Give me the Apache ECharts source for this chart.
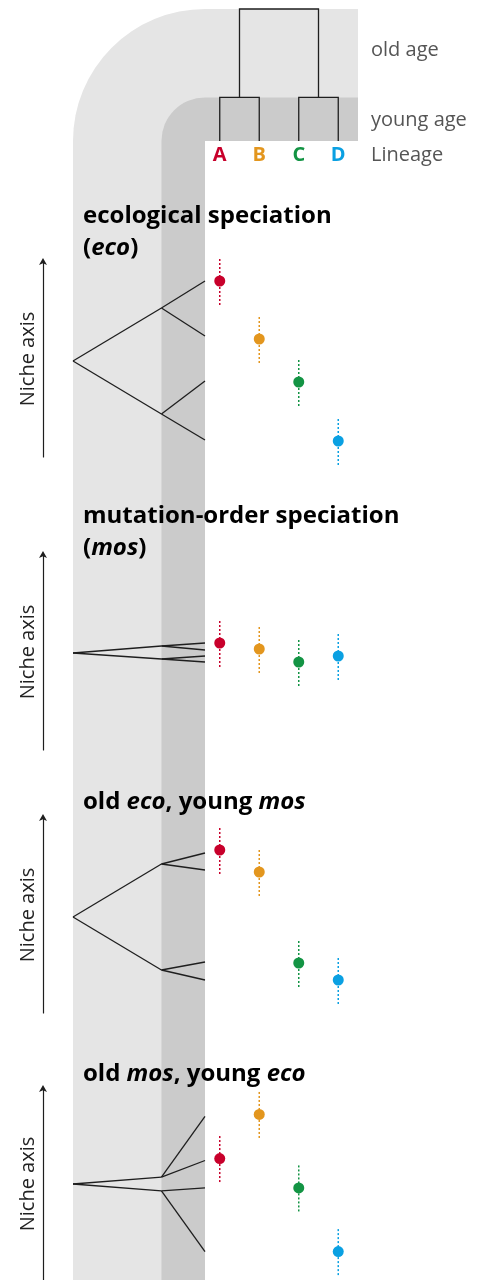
<!DOCTYPE html>
<html><head><meta charset="utf-8">
<script src="https://cdn.jsdelivr.net/npm/echarts@6/dist/echarts.min.js"></script>
<style>html,body{margin:0;padding:0;background:#fff}#c{width:477px;height:1280px}</style>
</head><body><div id="c"></div>
<script>
// ---------- data ----------
const lineages = ['A', 'B', 'C', 'D'];
const lineageColors = ['#c8002b', '#e3961e', '#139444', '#0aa0e2'];
const ageNames = ['old age', 'young age'];
const lineageName = 'Lineage';
const nicheName = 'Niche axis';
// relative ages of the splits (1 = old split, 0 = present)
const ageOld = 1, ageYoung = 0.33, agePresent = 0;
// top dendrogram: sister pairs split at young age, pairs join at old age
const sisterPairs = [[0, 1], [2, 3]];

// panel titles (rich text: b = bold, i = bold italic)
const panelTitles = [
  '{b|ecological speciation}\n{b|(}{i|eco}{b|)}',
  '{b|mutation-order speciation}\n{b|(}{i|mos}{b|)}',
  '{b|old }{i|eco}{b|, young }{i|mos}',
  '{b|old }{i|mos}{b|, young }{i|eco}'
];

// niche values (arbitrary units 0..196 along the niche axis)
// panel 1: ecological speciation
const ecoRoot = 96, ecoNodes = [149, 43], ecoTips = [176, 121, 76, 17];
const ecoMeans = [176, 118, 75, 16], ecoSpread = [24, 24, 24, 24];
// panel 2: mutation-order speciation
const mosRoot = 97, mosNodes = [104, 91], mosTips = [107, 100, 94, 88];
const mosMeans = [107, 101, 88, 94], mosSpread = [24, 24, 24, 24];
// panel 3: old eco, young mos
const ecoMosRoot = 96, ecoMosNodes = [149, 43], ecoMosTips = [160, 143, 51, 33];
const ecoMosMeans = [163, 141, 50, 33], ecoMosSpread = [24, 24, 24, 24];
// panel 4: old mos, young eco
const mosEcoRoot = 98, mosEcoNodes = [105, 91], mosEcoTips = [167, 122, 94, 29];
const mosEcoMeans = [124, 169, 94, 29], mosEcoSpread = [24, 24, 24, 24];

const panels = [
  {root: ecoRoot, nodes: ecoNodes, tips: ecoTips, means: ecoMeans, spread: ecoSpread},
  {root: mosRoot, nodes: mosNodes, tips: mosTips, means: mosMeans, spread: mosSpread},
  {root: ecoMosRoot, nodes: ecoMosNodes, tips: ecoMosTips, means: ecoMosMeans, spread: ecoMosSpread},
  {root: mosEcoRoot, nodes: mosEcoNodes, tips: mosEcoTips, means: mosEcoMeans, spread: mosEcoSpread}
];

// ---------- layout / style ----------
const FONT = 'Open Sans';
const W = 477, H = 1280;
const panelTop = [261, 554, 817, 1088];
const nicheMax = 196;
const LIGHT = '#e5e5e5', DARK = '#cbcbcb', INK = '#1e1e1e';

const chart = echarts.init(document.getElementById('c'), null, {renderer: 'canvas', width: W, height: H});

const grids = [{left: 200, top: 9, width: 158, height: 132}];
const xAxes = [{
  gridIndex: 0, type: 'category', data: lineages,
  axisLine: {show: false}, axisTick: {show: false}, splitLine: {show: false},
  axisLabel: {margin: 4, fontFamily: FONT, fontWeight: 'bold', fontSize: 20,
    color: (v, i) => lineageColors[lineages.indexOf(v)]}
}];
const yAxes = [{gridIndex: 0, type: 'value', min: 0, max: 1, show: false}];
const series = [];

// top dendrogram
series.push({
  type: 'custom', xAxisIndex: 0, yAxisIndex: 0, data: [[0]], z: 5, silent: true,
  renderItem: (params, api) => {
    const st = {stroke: INK, lineWidth: 1.3, fill: null};
    const ch = [];
    const mids = [];
    sisterPairs.forEach(([a, b]) => {
      const a0 = api.coord([a, agePresent]), ay = api.coord([a, ageYoung]);
      const b0 = api.coord([b, agePresent]), by = api.coord([b, ageYoung]);
      ch.push({type: 'polyline', shape: {points: [a0, ay, by, b0]}, style: st});
      mids.push((ay[0] + by[0]) / 2);
    });
    const yy = api.coord([0, ageYoung])[1], yo = api.coord([0, ageOld])[1];
    ch.push({type: 'polyline', shape: {points: [[mids[0], yy], [mids[0], yo], [mids[1], yo], [mids[1], yy]]}, style: st});
    return {type: 'group', children: ch};
  }
});

panels.forEach((p, k) => {
  const gT = 1 + 2 * k, gP = 2 + 2 * k;
  grids.push({left: 73, top: panelTop[k], width: 132, height: nicheMax});
  grids.push({left: 200, top: panelTop[k], width: 158, height: nicheMax});
  xAxes.push({gridIndex: gT, type: 'value', min: 0, max: 1, inverse: true, show: false});
  yAxes.push({
    gridIndex: gT, type: 'value', min: 0, max: nicheMax, position: 'left', offset: 30,
    axisLine: {show: true, onZero: false, symbol: ['none', 'arrow'], symbolSize: [6, 7], symbolOffset: [0, 3],
      lineStyle: {color: INK, width: 1.2}},
    axisTick: {show: false}, axisLabel: {show: false}, splitLine: {show: false},
    name: nicheName, nameLocation: 'middle', nameRotate: 90, nameGap: 5,
    nameTextStyle: {fontFamily: FONT, fontSize: 20, color: '#222'}
  });
  xAxes.push({gridIndex: gP, type: 'category', data: lineages, show: false});
  yAxes.push({gridIndex: gP, type: 'value', min: 0, max: nicheMax, show: false});

  // tree edges [age1, niche1, age2, niche2]
  const edges = [
    [ageOld, p.root, ageYoung, p.nodes[0]],
    [ageOld, p.root, ageYoung, p.nodes[1]],
    [ageYoung, p.nodes[0], agePresent, p.tips[0]],
    [ageYoung, p.nodes[0], agePresent, p.tips[1]],
    [ageYoung, p.nodes[1], agePresent, p.tips[2]],
    [ageYoung, p.nodes[1], agePresent, p.tips[3]]
  ];
  series.push({
    type: 'custom', xAxisIndex: gT, yAxisIndex: gT, data: edges, z: 5, silent: true, clip: false,
    dimensions: ['a1', 'n1', 'a2', 'n2'], encode: {x: [0, 2], y: [1, 3]},
    renderItem: (params, api) => {
      const s = api.coord([api.value(0), api.value(1)]);
      const e = api.coord([api.value(2), api.value(3)]);
      return {type: 'line', shape: {x1: s[0], y1: s[1], x2: e[0], y2: e[1]},
        style: {stroke: INK, lineWidth: 1.3}};
    }
  });
  // spread bars
  series.push({
    type: 'custom', xAxisIndex: gP, yAxisIndex: gP, silent: true, clip: false, z: 4,
    data: p.means.map((m, i) => [i, m, p.spread[i]]),
    encode: {x: 0, y: 1},
    renderItem: (params, api) => {
      const i = api.value(0), m = api.value(1), s = api.value(2);
      const lo = api.coord([i, m - s]), hi = api.coord([i, m + s]);
      return {type: 'line', shape: {x1: lo[0], y1: lo[1], x2: hi[0], y2: hi[1]},
        style: {stroke: lineageColors[i], lineWidth: 1.5, lineDash: [2, 2]}};
    }
  });
  // means
  series.push({
    type: 'scatter', xAxisIndex: gP, yAxisIndex: gP, z: 6, silent: true,
    symbol: 'circle', symbolSize: 11,
    data: p.means.map((m, i) => ({value: [i, m], itemStyle: {color: lineageColors[i], opacity: 1}}))
  });
});

chart.setOption({
  animation: false,
  grid: grids, xAxis: xAxes, yAxis: yAxes, series: series
});

// background bands derived from the age axes
const xOld = chart.convertToPixel({xAxisIndex: 1}, ageOld);
const xYoung = chart.convertToPixel({xAxisIndex: 1}, ageYoung);
const xNow = chart.convertToPixel({xAxisIndex: 1}, agePresent);
const yOld = chart.convertToPixel({yAxisIndex: 0}, ageOld);
const yYoung = chart.convertToPixel({yAxisIndex: 0}, ageYoung);
const yNow = chart.convertToPixel({yAxisIndex: 0}, agePresent);
const xRight = grids[0].left + grids[0].width;

const titleRich = {
  b: {fontFamily: FONT, fontWeight: 'bold', fontSize: 24, fill: '#000', lineHeight: 32},
  i: {fontFamily: FONT, fontWeight: 'bold', fontStyle: 'italic', fontSize: 24, fill: '#000', lineHeight: 32}
};
const titleTops = [204, 504, 790, 1062];

const graphics = [
  {type: 'rect', z: -10, shape: {x: xNow, y: yOld, width: xRight - xNow, height: yNow - yOld}, style: {fill: LIGHT}},
  {type: 'rect', z: -10, shape: {x: xOld, y: yNow, width: xNow - xOld, height: H - yNow}, style: {fill: LIGHT}},
  {type: 'sector', z: -10, shape: {cx: xNow, cy: yNow, r: xNow - xOld, startAngle: Math.PI, endAngle: Math.PI * 1.5}, style: {fill: LIGHT}},
  {type: 'rect', z: -9, shape: {x: xNow, y: yYoung, width: xRight - xNow, height: yNow - yYoung}, style: {fill: DARK}},
  {type: 'rect', z: -9, shape: {x: xYoung, y: yNow, width: xNow - xYoung, height: H - yNow}, style: {fill: DARK}},
  {type: 'sector', z: -9, shape: {cx: xNow, cy: yNow, r: xNow - xYoung, startAngle: Math.PI, endAngle: Math.PI * 1.5}, style: {fill: DARK}},
  {type: 'text', z: 10, x: 371, y: (yOld + yYoung) / 2 - 3,
    style: {text: ageNames[0], fontFamily: FONT, fontSize: 20, fill: '#555', verticalAlign: 'middle'}},
  {type: 'text', z: 10, x: 371, y: (yYoung + yNow) / 2 + 1,
    style: {text: ageNames[1], fontFamily: FONT, fontSize: 20, fill: '#555', verticalAlign: 'middle'}},
  {type: 'text', z: 10, x: 371, y: 155,
    style: {text: lineageName, fontFamily: FONT, fontSize: 20, fill: '#555', verticalAlign: 'middle'}}
];
panelTitles.forEach((t, k) => {
  graphics.push({type: 'text', z: 10, left: 83, top: titleTops[k], style: {text: t, rich: titleRich}});
});
chart.setOption({graphic: graphics});
</script>
</body></html>
